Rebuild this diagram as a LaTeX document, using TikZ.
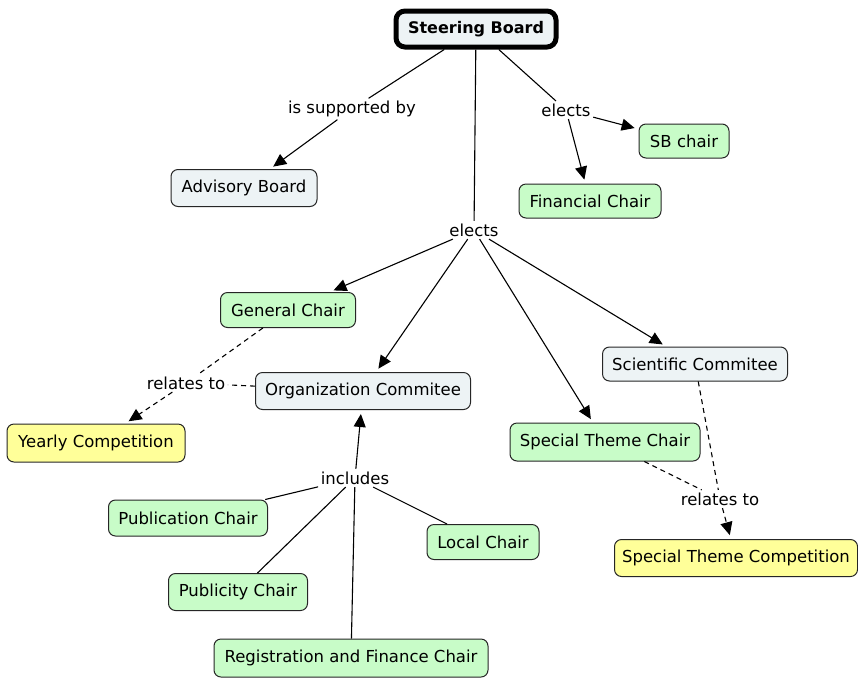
\documentclass[tikz,border=0pt]{standalone}
\usepackage{fontspec}
\setmainfont{DejaVu Sans}
\usetikzlibrary{arrows.meta}
\definecolor{gfill}{HTML}{C8FCC8}
\definecolor{yfill}{HTML}{FFFF99}
\definecolor{bfill}{HTML}{EDF3F5}
\begin{document}
\begin{tikzpicture}[x=1pt,y=-1pt,
 box/.style={draw=black!85, rounded corners=7pt, line width=1pt, inner sep=0pt, font=\fontsize{16.5}{19}\selectfont},
 gbox/.style={box, fill=gfill},
 ybox/.style={box, fill=yfill},
 bbox/.style={box, fill=bfill},
 lbl/.style={inner sep=2.5pt, font=\fontsize{16.5}{19}\selectfont},
 conn/.style={line width=1.1pt},
 arr/.style={conn, -{Triangle[length=13pt,width=12pt]}, shorten >=4pt},
 dsh/.style={dash pattern=on 5pt off 4pt}
]
\useasboundingbox (0,0) rectangle (858,678);
\fill[white] (0,0) rectangle (858,678);

% nodes
\node[bbox, draw=black, line width=5pt, rounded corners=9pt, minimum width=160pt, minimum height=36pt, font=\bfseries\fontsize{16}{19}\selectfont] (sb) at (476,29) {Steering Board};
\node[bbox, minimum width=146pt, minimum height=37pt] (adv) at (244,188) {Advisory Board};
\node[gbox, minimum width=90pt, minimum height=34pt] (sbc) at (684,141) {SB chair};
\node[gbox, minimum width=142pt, minimum height=34pt] (fin) at (590,201) {Financial Chair};
\node[gbox, minimum width=135pt, minimum height=35pt] (gen) at (288,310) {General Chair};
\node[bbox, minimum width=215pt, minimum height=37pt] (org) at (363,391) {Organization Commitee};
\node[bbox, minimum width=185pt, minimum height=34pt] (sci) at (695,364) {Scientific Commitee};
\node[gbox, minimum width=190pt, minimum height=38pt] (stc) at (605,442) {Special Theme Chair};
\node[ybox, minimum width=178pt, minimum height=38pt] (yc) at (96,443) {Yearly Competition};
\node[ybox, minimum width=243pt, minimum height=37pt] (stcomp) at (736,558) {Special Theme Competition};
\node[gbox, minimum width=159pt, minimum height=36pt] (pub) at (188,518) {Publication Chair};
\node[gbox, minimum width=112pt, minimum height=35pt] (loc) at (483,542) {Local Chair};
\node[gbox, minimum width=139pt, minimum height=37pt] (pcy) at (238,592) {Publicity Chair};
\node[gbox, minimum width=274pt, minimum height=38pt] (reg) at (351,658) {Registration and Finance Chair};

% labels
\node[lbl] (sup) at (352,109) {is supported by};
\node[lbl] (el1) at (566,110) {elects};
\node[lbl] (el2) at (474,230) {elects};
\node[lbl] (rel1) at (186,383) {relates to};
\node[lbl] (rel2) at (720,499) {relates to};
\node[lbl] (inc) at (355,478) {includes};

% connectors
\draw[conn] (sb) -- (sup);
\draw[arr] (sup) -- (adv);
\draw[conn] (sb) -- (el1);
\draw[arr] (el1) -- (sbc);
\draw[arr] (el1) -- (fin);
\draw[conn] (sb) -- (el2);
\draw[arr] (el2) -- (gen);
\draw[arr] (el2) -- (org);
\draw[arr] (el2) -- (stc);
\draw[arr] (el2) -- (sci);
\draw[conn, dsh] (gen) -- (rel1);
\draw[conn, dsh] (org) -- (rel1);
\draw[arr, dsh] (rel1) -- (yc);
\draw[conn, dsh] (sci) -- (rel2);
\draw[conn, dsh] (stc) -- (rel2);
\draw[arr, dsh] (rel2) -- (stcomp);
\draw[conn] (pub) -- (inc);
\draw[conn] (pcy) -- (inc);
\draw[conn] (reg) -- (inc);
\draw[conn] (loc) -- (inc);
\draw[arr] (inc) -- (org);
\end{tikzpicture}
\end{document}
